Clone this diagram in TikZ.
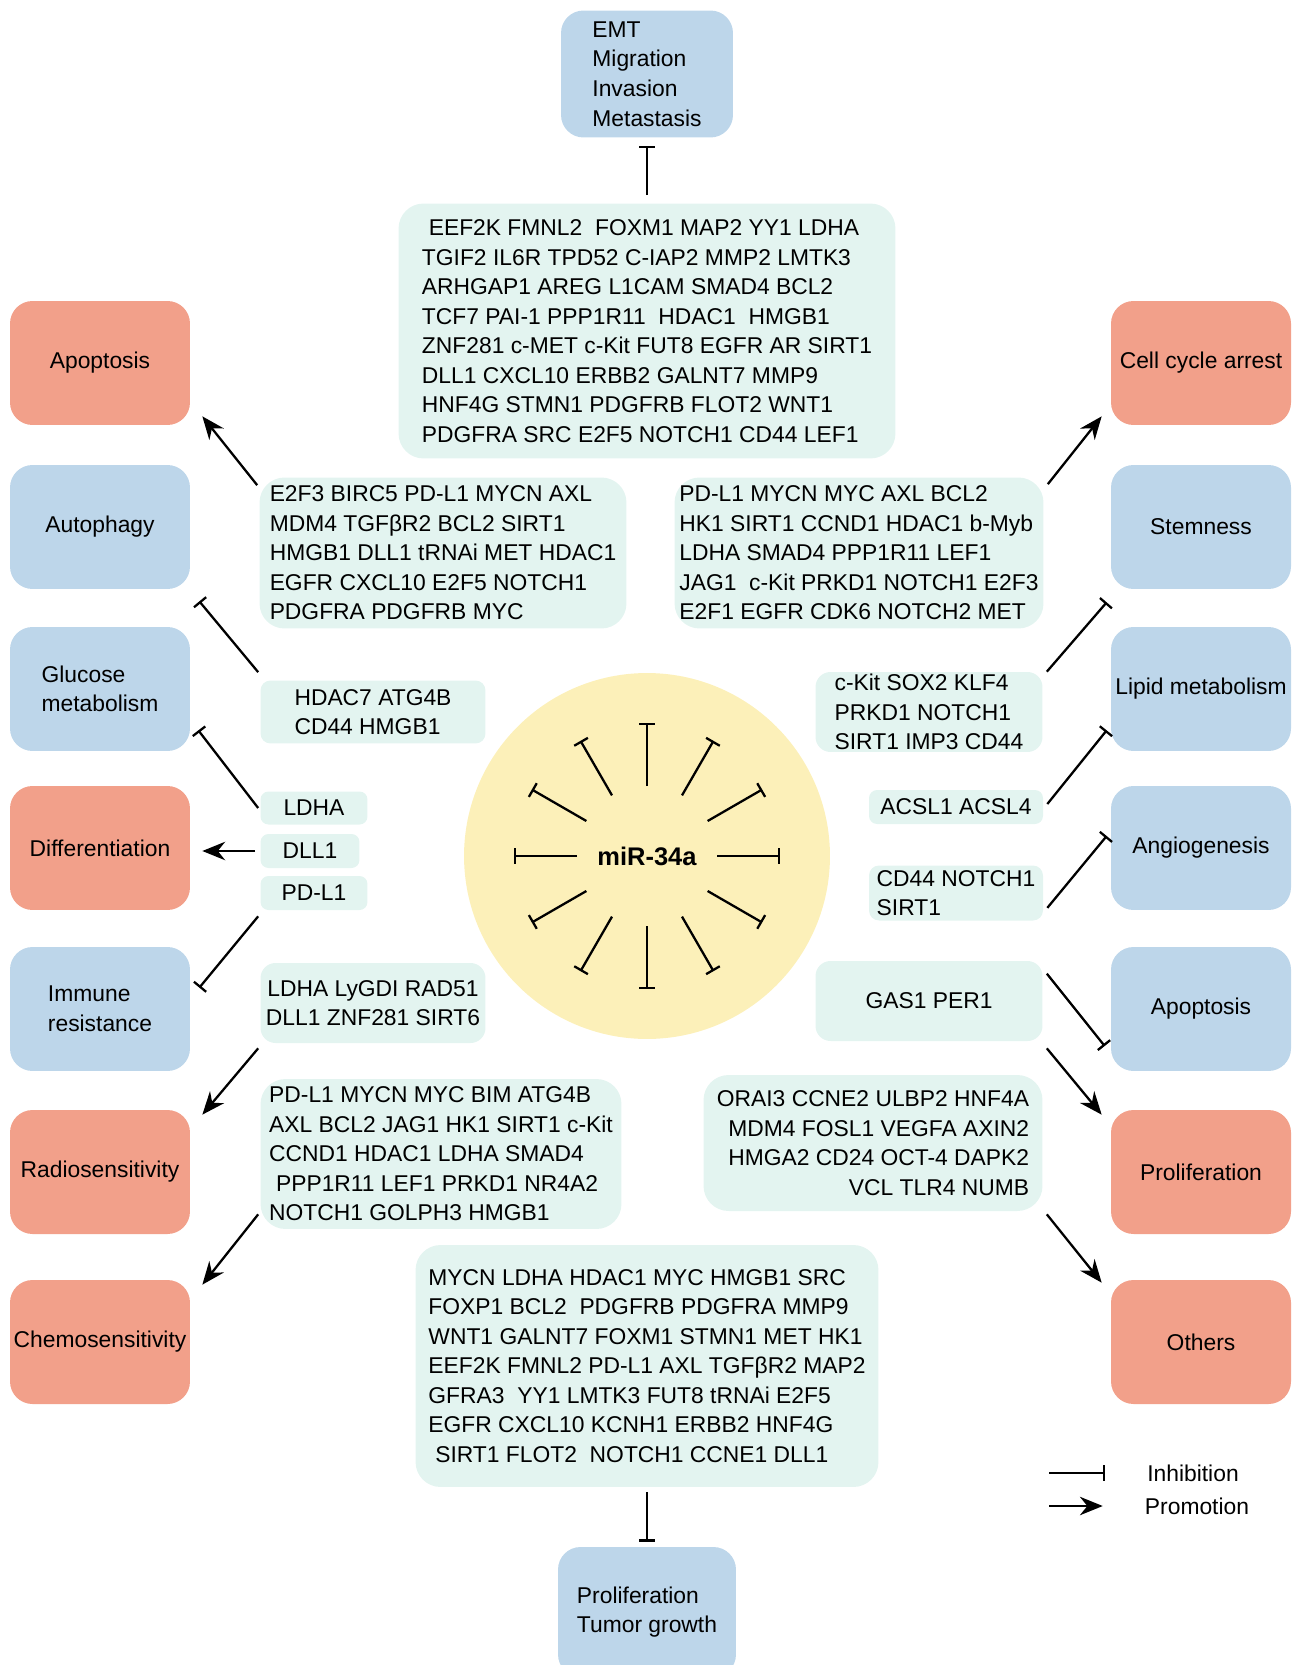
\documentclass[tikz,border=0pt]{standalone}
\usepackage{fontspec}
\setmainfont{Liberation Sans}
\usetikzlibrary{shapes,arrows.meta}
\usetikzlibrary{calc}
\definecolor{fateblue}{RGB}{189,214,234}
\definecolor{fatered}{RGB}{242,160,138}
\definecolor{genemint}{RGB}{227,244,240}
\definecolor{miryellow}{RGB}{252,240,185}
\tikzstyle{block} = [rectangle, rounded corners=0.45cm, inner sep=0pt,
    minimum width=3.6cm, minimum height=2.48cm, align=left]
\tikzstyle{blue block} = [block, fill=fateblue]
\tikzstyle{red block} = [block, fill=fatered]
\tikzstyle{genes} = [rectangle, fill=genemint, rounded corners=0.5cm,
    inner sep=0pt, align=left]
\tikzstyle{gene} = [genes, rounded corners=0.16cm, align=center]
\tikzstyle{line} = [draw, line width=1.3pt, -{Stealth[length=13pt,width=10.5pt]}]
\tikzstyle{inhibit} = [draw, line width=1.3pt, -{Bar[width=9pt]}]

\begin{document}
\begin{tikzpicture}[x=0.02cm, y=-0.02cm, font=\fontsize{13}{16.8}\selectfont]
  \useasboundingbox (0,0) rectangle (1300,1665);
  % Place nodes
  \node [blue block, minimum width=3.44cm, minimum height=2.54cm] (emt) at (647,74) {EMT\\Migration\\Invasion\\Metastasis};
  \node [blue block, minimum width=3.56cm, minimum height=2.6cm] (tumor) at (647,1612) {Proliferation\\Tumor growth};

  % left column
  \node [red block] (apopL) at (100,363) {Apoptosis};
  \node [blue block] (autoL) at (100,527) {Autophagy};
  \node [blue block] (glucL) at (100,689) {Glucose\\metabolism};
  \node [red block] (diffL) at (100,848) {Differentiation};
  \node [blue block] (immL) at (100,1009) {Immune\\resistance};
  \node [red block] (radL) at (100,1172) {Radiosensitivity};
  \node [red block] (chemL) at (100,1342) {Chemosensitivity};

  % right column
  \node [red block] (cellR) at (1201,363) {Cell cycle arrest};
  \node [blue block] (stemR) at (1201,527) {Stemness};
  \node [blue block] (lipR) at (1201,689) {Lipid metabolism};
  \node [blue block] (angR) at (1201,848) {Angiogenesis};
  \node [blue block] (apopR) at (1201,1009) {Apoptosis};
  \node [red block] (proR) at (1201,1172) {Proliferation};
  \node [red block] (othR) at (1201,1342) {Others};

  % target genes
  \node [genes, minimum width=9.94cm, minimum height=5.1cm] (gTop) at (647,331) {\hspace*{0.3em}EEF2K FMNL2\ \ FOXM1 MAP2 YY1 LDHA\\TGIF2 IL6R TPD52 C-IAP2 MMP2 LMTK3\\ARHGAP1 AREG L1CAM SMAD4 BCL2\\TCF7 PAI-1 PPP1R11\ \ HDAC1\ \ HMGB1\\ZNF281 c-MET c-Kit FUT8 EGFR AR SIRT1\\DLL1 CXCL10 ERBB2 GALNT7 MMP9\\HNF4G STMN1 PDGFRB FLOT2 WNT1\\PDGFRA SRC E2F5 NOTCH1 CD44 LEF1};
  \node [genes, minimum width=7.34cm, minimum height=3.02cm] (gA) at (443,553) {E2F3 BIRC5 PD-L1 MYCN AXL\\MDM4 TGFβR2 BCL2 SIRT1\\HMGB1 DLL1 tRNAi MET HDAC1\\EGFR CXCL10 E2F5 NOTCH1\\PDGFRA PDGFRB MYC};
  \node [genes, rounded corners=0.2cm, minimum width=4.5cm, minimum height=1.26cm] (gB) at (373,712) {HDAC7 ATG4B\\CD44 HMGB1};
  \node [gene, minimum width=2.14cm, minimum height=0.66cm] (ldha) at (314,808) {LDHA};
  \node [gene, minimum width=1.98cm, minimum height=0.68cm] (dll) at (310,851) {DLL1};
  \node [gene, minimum width=2.14cm, minimum height=0.68cm] (pdl) at (314,893) {PD-L1};
  \node [genes, rounded corners=0.3cm, align=center, minimum width=4.5cm, minimum height=1.6cm] (lyg) at (373,1003) {LDHA LyGDI RAD51\\DLL1 ZNF281 SIRT6};
  \node [genes, minimum width=7.22cm, minimum height=3.0cm] (gC) at (441,1154) {PD-L1 MYCN MYC BIM ATG4B\\AXL BCL2 JAG1 HK1 SIRT1 c-Kit\\CCND1 HDAC1 LDHA SMAD4\\\hspace*{0.3em}PPP1R11 LEF1 PRKD1 NR4A2\\NOTCH1 GOLPH3 HMGB1};

  \node [genes, minimum width=7.38cm, minimum height=3.02cm] (gD) at (859,553) {PD-L1 MYCN MYC AXL BCL2\\HK1 SIRT1 CCND1 HDAC1 b-Myb\\LDHA SMAD4 PPP1R11 LEF1\\JAG1\ \ c-Kit PRKD1 NOTCH1 E2F3\\E2F1 EGFR CDK6 NOTCH2 MET};
  \node [genes, rounded corners=0.3cm, minimum width=4.54cm, minimum height=1.6cm] (kit) at (929,712) {c-Kit SOX2 KLF4\\PRKD1 NOTCH1\\SIRT1 IMP3 CD44};
  \node [gene, minimum width=3.48cm, minimum height=0.68cm] (acsl) at (956,807) {ACSL1 ACSL4};
  \node [genes, rounded corners=0.2cm, minimum width=3.48cm, minimum height=1.1cm] (cd44) at (956,893) {CD44 NOTCH1\\SIRT1};
  \node [genes, rounded corners=0.3cm, align=center, minimum width=4.54cm, minimum height=1.6cm] (gas) at (929,1001) {GAS1 PER1};
  \node [genes, align=right, minimum width=6.78cm, minimum height=2.72cm] (gE) at (873,1143) {ORAI3 CCNE2 ULBP2 HNF4A\\MDM4 FOSL1 VEGFA AXIN2\\HMGA2 CD24 OCT-4 DAPK2\\VCL TLR4 NUMB};
  \node [genes, minimum width=9.26cm, minimum height=4.84cm] (gBot) at (647,1366) {MYCN LDHA HDAC1 MYC HMGB1 SRC\\FOXP1 BCL2\ \ PDGFRB PDGFRA MMP9\\WNT1 GALNT7 FOXM1 STMN1 MET HK1\\EEF2K FMNL2 PD-L1 AXL TGFβR2 MAP2\\GFRA3\ \ YY1 LMTK3 FUT8 tRNAi E2F5\\EGFR CXCL10 KCNH1 ERBB2 HNF4G\\\hspace*{0.3em}SIRT1 FLOT2\ \ NOTCH1 CCNE1 DLL1};

  % miR-34a in the middle
  \node [circle, fill=miryellow, inner sep=0pt, minimum size=7.32cm, font=\fontsize{14.5}{17}\selectfont\bfseries] (mir) at (647,856) {miR-34a};
  \foreach \a in {0,30,...,330}
    \path [inhibit] ($(mir.center)+(\a:70)$) -- ($(mir.center)+(\a:133)$);

  % top and bottom
  \path [inhibit] ($(gTop.north)+(0,-8)$) -- ($(emt.south)+(0,8)$);
  \path [inhibit] ($(gBot.south)+(0,5)$) -- ($(tumor.north)+(0,-5)$);

  % left side
  \path [line] ($(gA.north west)+(-2,8)$) -- ($(apopL.south east)+(12,-9)$);
  \path [inhibit] ($(gB.north west)+(-2,-8)$) -- ($(autoL.south east)+(9,12)$);
  \path [inhibit] ($(ldha.west)+(-2,0)$) -- ($(glucL.south east)+(8,-21)$);
  \path [line] ($(dll.west)+(-5,0)$) -- ($(dll.west -| diffL.east)+(12,0)$);
  \path [inhibit] ($(pdl.south west)+(-2,6)$) -- ($(immL.north east)+(9,41)$);
  \path [line] ($(lyg.south west)+(-2,5)$) -- ($(radL.north east)+(12,5)$);
  \path [line] ($(gC.south west)+(-2,-15)$) -- ($(chemL.north east)+(12,5)$);

  % right side
  \path [line] ($(gD.north east)+(4,7)$) -- ($(cellR.south west)+(-9,-9)$);
  \path [inhibit] ($(kit.north east)+(4,0)$) -- ($(stemR.south west)+(-4,13)$);
  \path [inhibit] ($(acsl.east)+(4,-3)$) -- ($(lipR.south west)+(-4,-21)$);
  \path [inhibit] ($(cd44.south east)+(4,-13)$) -- ($(angR.west)+(-4,-12)$);
  \path [inhibit] ($(gas.north east)+(4,13)$) -- ($(apopR.west)+(-6,37)$);
  \path [line] ($(gas.south east)+(4,7)$) -- ($(proR.north west)+(-9,5)$);
  \path [line] ($(gE.south east)+(4,3)$) -- ($(othR.north west)+(-9,3)$);

  % legend
  \node (inhLbl) at (1193,1473) {Inhibition};
  \node (proLbl) at (1197,1506) {Promotion};
  \coordinate (inhA) at (1049,1473);
  \coordinate (proA) at (1049,1506);
  \path [inhibit] (inhA) -- ($(inhLbl.west)+(-36,0)$);
  \path [line] (proA) -- ($(proLbl.west)+(-36,0)$);
\end{tikzpicture}
\end{document}
